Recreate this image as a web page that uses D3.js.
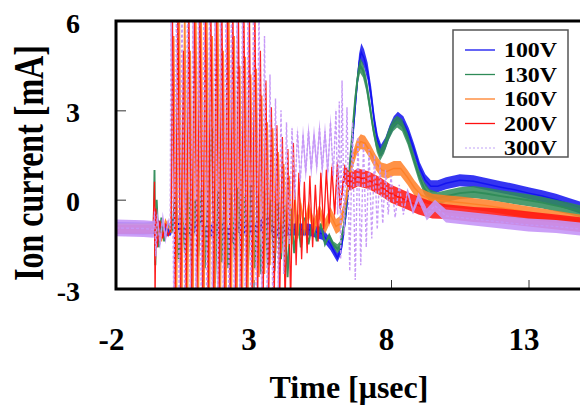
<!DOCTYPE html>
<html>
<head>
<meta charset="utf-8">
<script src="https://cdn.jsdelivr.net/npm/d3@7"></script>
<style>
  body { margin: 0; background: #fff; }
  text { font-family: "Liberation Serif", "Times New Roman", serif; font-weight: bold; fill: #000; }
</style>
</head>
<body>
<svg id="chart" width="580" height="406"></svg>
<script>
// [time (usec), current (mA), noise half-width (mA)]
const s100 = [
  [-2.0,-0.95,0.2],[-1.0,-0.97,0.2],[-0.62,-0.95,0.2],[-0.58,-1.4,0.2],[-0.52,-0.8,0.2],[-0.3,-1.05,0.2],
  [0.0,-1.0,0.2],[0.2,-0.3,0.1],[0.3,-1.1,0.2],[0.8,-1.0,0.2],[1.1,-0.6,0.15],[1.2,-1.1,0.2],[1.8,-0.95,0.2],
  [2.3,-1.3,0.2],[2.4,-0.9,0.2],[3.0,-1.0,0.2],[3.6,-0.7,0.2],[3.7,-1.1,0.2],[4.3,-1.0,0.2],[5.0,-1.0,0.2],
  [5.5,-1.15,0.2],[5.8,-1.5,0.2],[6.05,-1.95,0.15],[6.2,-1.6,0.2],[6.35,-0.6,0.2],[6.5,0.8,0.25],
  [6.62,2.2,0.25],[6.74,3.6,0.3],[6.84,4.6,0.3],[6.92,4.95,0.3],[7.02,4.75,0.3],[7.15,4.3,0.3],
  [7.28,3.5,0.3],[7.4,2.6,0.25],[7.52,1.95,0.22],[7.64,1.65,0.2],[7.8,1.9,0.2],[7.95,2.3,0.2],
  [8.1,2.6,0.2],[8.25,2.75,0.2],[8.45,2.6,0.2],[8.65,2.2,0.2],[8.85,1.65,0.2],[9.05,1.05,0.2],
  [9.25,0.65,0.2],[9.45,0.45,0.2],[9.7,0.45,0.2],[10.0,0.55,0.2],[10.5,0.65,0.2],[11.0,0.62,0.2],
  [11.5,0.52,0.2],[12.0,0.42,0.2],[12.5,0.33,0.2],[13.0,0.22,0.2],[13.5,0.12,0.2],[14.0,0.0,0.2],
  [14.5,-0.15,0.2],[15.0,-0.3,0.2]
];

const s130 = [
  [-2.0,-0.95,0.15],[-1.0,-0.95,0.15],[-0.63,-0.95,0.15],[-0.6,1.0,0],[-0.57,-2.2,0],[-0.52,0.0,0],
  [-0.45,-1.6,0],[-0.35,-0.6,0],[-0.25,-1.4,0],[-0.1,-0.8,0],[0.05,-1.1,0],
  [0.15,0.2,0],[0.27,-2.0,0],[0.39,-0.2,0],[0.51,-1.8,0],[0.63,0.3,0],[0.75,-2.2,0],[0.87,0.0,0],
  [0.99,-1.9,0],[1.11,0.4,0],[1.23,-2.3,0],[1.35,0.1,0],[1.5,2.4,0],[1.6,-2.8,0],[1.72,0.3,0],
  [1.84,-2.1,0],[1.96,0.5,0],[2.08,-2.3,0],[2.2,0.2,0],[2.32,-2.0,0],[2.44,0.4,0],[2.56,-2.4,0],
  [2.68,0.1,0],[2.8,-2.2,0],[2.92,0.5,0],[3.04,-2.3,0],[3.16,0.2,0],[3.28,-2.5,0],[3.4,0.3,0],
  [3.52,-2.2,0],[3.64,0.0,0],[3.76,-2.4,0],[3.88,-0.1,0],[4.0,-2.0,0],[4.12,-0.2,0],[4.24,-2.6,0],
  [4.36,-0.3,0],[4.48,-1.8,0],[4.6,-0.5,0],[4.72,-1.6,0],[4.85,-0.6,0],[5.0,-1.5,0],[5.15,-0.7,0],
  [5.3,-1.4,0],[5.45,-0.8,0],[5.6,-1.5,0],[5.75,-1.2,0.1],
  [5.9,-1.5,0.1],[6.05,-1.65,0.15],[6.15,-1.55,0.15],[6.3,-0.8,0.2],[6.45,0.6,0.2],[6.58,2.1,0.2],
  [6.7,3.4,0.25],[6.8,4.2,0.25],[6.88,4.5,0.25],[6.98,4.35,0.25],[7.1,3.9,0.25],[7.22,3.2,0.25],
  [7.35,2.4,0.2],[7.48,1.8,0.2],[7.6,1.5,0.2],[7.75,1.75,0.2],[7.92,2.2,0.2],[8.08,2.5,0.2],
  [8.22,2.62,0.2],[8.4,2.5,0.2],[8.6,2.05,0.2],[8.8,1.45,0.2],[9.0,0.85,0.2],[9.2,0.4,0.2],
  [9.4,0.15,0.2],[9.7,0.05,0.2],[10.0,0.12,0.2],[10.5,0.22,0.2],[11.0,0.26,0.2],[11.5,0.2,0.2],
  [12.0,0.12,0.2],[12.5,0.05,0.2],[13.0,-0.02,0.2],[13.5,-0.1,0.2],[14.0,-0.2,0.2],[14.5,-0.3,0.2],
  [15.0,-0.42,0.2]
];

const s160 = [
  [-2.0,-0.95,0.15],[-1.0,-0.95,0.15],[-0.63,-0.95,0.15],[-0.6,0.0,0],[-0.57,-2.0,0],[-0.5,-0.6,0],
  [-0.35,-1.4,0],[-0.2,-0.7,0],[0.0,-1.1,0],
  [0.1,5.5,0],[0.2,-3.5,0],[0.3,6.5,0],[0.4,-3.0,0],[0.5,6.5,0],[0.6,-3.5,0],[0.7,5.0,0],[0.8,-3.5,0],
  [0.9,6.5,0],[1.0,-3.0,0],[1.1,6.0,0],[1.2,-3.5,0],[1.3,6.5,0],[1.4,-3.0,0],[1.5,5.5,0],[1.6,-3.5,0],
  [1.7,6.5,0],[1.8,-3.0,0],[1.9,5.0,0],[2.0,-3.5,0],[2.1,6.5,0],[2.2,-3.0,0],[2.3,5.5,0],[2.4,-3.2,0],
  [2.5,4.5,0],[2.6,-3.0,0],[2.7,4.8,0],[2.8,-3.0,0],[2.9,4.2,0],[3.0,-2.8,0],[3.1,4.4,0],[3.2,-2.6,0],
  [3.3,3.5,0],[3.4,-2.5,0],[3.5,2.6,0],[3.6,-2.2,0],[3.7,2.4,0],[3.8,-1.8,0],[3.9,1.6,0],[4.0,-1.8,0],
  [4.1,1.2,0],[4.2,-1.6,0],[4.3,0.8,0],[4.4,-1.5,0],[4.5,0.3,0.1],[4.6,-1.3,0.15],[4.7,-0.1,0.2],
  [4.85,-1.0,0.25],[5.0,-0.3,0.25],[5.2,-0.9,0.25],[5.4,-0.4,0.25],[5.6,-0.9,0.25],[5.8,-0.5,0.25],
  [6.0,-0.9,0.25],[6.15,-0.8,0.25],[6.3,-0.3,0.25],[6.45,0.5,0.25],[6.6,1.3,0.25],[6.75,1.75,0.25],
  [6.9,1.95,0.25],[7.05,1.9,0.25],[7.25,1.6,0.25],[7.45,1.25,0.25],[7.65,1.0,0.25],[7.85,0.95,0.25],
  [8.1,1.05,0.25],[8.35,1.05,0.25],[8.6,0.75,0.25],[8.85,0.4,0.25],[9.1,0.15,0.22],[9.5,0.0,0.2],
  [10.0,-0.05,0.2],[10.6,-0.1,0.2],[11.5,-0.2,0.2],[12.5,-0.35,0.2],[13.5,-0.5,0.2],[14.5,-0.65,0.2],
  [15.0,-0.72,0.2]
];

const s200 = [
  [-2.0,-1.0,0.15],[-1.0,-1.0,0.15],[-0.65,-1.0,0.15],[-0.6,0.6,0],[-0.58,-3.5,0],[-0.55,-0.3,0],
  [-0.5,-1.6,0],[-0.4,-0.7,0],[-0.3,-1.3,0],[-0.2,-0.8,0],[-0.1,-1.2,0],[0.0,-1.0,0],
  [0.05,6.5,0],[0.15,-3.5,0],[0.25,6.5,0],[0.35,-3.5,0],[0.45,5.0,0],[0.55,-3.5,0],[0.65,6.5,0],
  [0.75,-3.5,0],[0.85,6.5,0],[0.95,-3.0,0],[1.05,6.5,0],[1.15,-3.5,0],[1.25,6.5,0],[1.35,-3.5,0],
  [1.45,6.5,0],[1.55,-3.5,0],[1.65,6.5,0],[1.75,-3.5,0],[1.85,6.5,0],[1.95,-3.5,0],[2.05,6.5,0],
  [2.15,-3.5,0],[2.25,6.5,0],[2.35,-3.5,0],[2.45,6.5,0],[2.55,-3.5,0],[2.65,6.5,0],[2.75,-3.5,0],
  [2.85,6.5,0],[2.95,-3.5,0],[3.05,6.5,0],[3.15,-3.5,0],[3.25,5.0,0],[3.35,-3.5,0],[3.45,4.0,0],
  [3.55,-3.5,0],[3.65,3.1,0],[3.75,-3.5,0],[3.85,2.5,0],[3.95,-3.5,0],[4.05,2.1,0],[4.15,-3.5,0],
  [4.25,1.7,0],[4.35,-3.5,0],[4.45,1.9,0],[4.55,-2.2,0],[4.65,0.9,0],[4.75,-2.0,0],[4.85,0.6,0],
  [4.95,-1.8,0],[5.05,0.8,0],[5.15,-1.6,0],[5.25,0.5,0],[5.35,-1.4,0],[5.45,0.9,0.1],[5.55,-1.0,0.1],
  [5.65,1.0,0.1],[5.75,-0.8,0.15],[5.85,1.1,0.15],[5.95,-0.5,0.2],[6.05,1.2,0.2],[6.15,-0.3,0.2],
  [6.3,0.9,0.3],[6.5,0.6,0.3],[6.8,0.75,0.3],[7.2,0.65,0.3],[7.6,0.45,0.3],[8.0,0.2,0.3],[8.5,0.0,0.3],
  [9.0,-0.2,0.3],[9.5,-0.35,0.28],[10.0,-0.4,0.25],[11.0,-0.5,0.25],[12.0,-0.55,0.25],[13.0,-0.65,0.25],
  [14.0,-0.75,0.25],[15.0,-0.85,0.25]
];

const s300 = [
  [-2.0,-0.95,0.28],[-1.0,-0.97,0.28],[-0.63,-1.0,0.28],[-0.6,-0.4,0.2],[-0.55,-1.9,0.2],[-0.5,-0.5,0.2],
  [-0.4,-1.5,0.2],[-0.3,-0.6,0.2],[-0.2,-1.3,0.2],[-0.1,-0.7,0.1],[-0.03,-1.0,0],
  [0.0,6.5,0],[0.1,-3.5,0],[0.2,6.5,0],[0.3,-3.5,0],[0.4,6.5,0],[0.5,-3.5,0],[0.6,6.5,0],[0.7,-3.5,0],
  [0.8,6.5,0],[0.9,-3.5,0],[1.0,6.5,0],[1.1,-3.5,0],[1.2,6.5,0],[1.3,-3.5,0],[1.4,6.5,0],[1.5,-3.5,0],
  [1.6,6.5,0],[1.7,-3.5,0],[1.8,6.5,0],[1.9,-3.5,0],[2.0,6.5,0],[2.1,-3.5,0],[2.2,6.5,0],[2.3,-3.5,0],
  [2.4,6.5,0],[2.5,-3.5,0],[2.6,6.5,0],[2.7,-3.5,0],[2.8,6.5,0],[2.9,-3.5,0],[3.0,6.5,0],[3.1,-3.5,0],
  [3.2,6.5,0],[3.3,-3.5,0],[3.4,5.5,0],[3.5,-3.5,0],[3.6,4.2,0],[3.7,-3.5,0],[3.8,3.4,0],[3.9,-3.0,0],
  [4.0,3.0,0],[4.1,-2.5,0],[4.2,2.6,0],[4.3,-1.5,0],[4.4,2.4,0.1],[4.5,0.0,0.1],[4.6,2.3,0.2],
  [4.7,0.6,0.2],[4.8,2.2,0.3],[4.9,0.9,0.3],[5.0,2.3,0.3],[5.1,1.0,0.3],[5.2,2.2,0.3],[5.3,1.1,0.3],
  [5.4,2.4,0.3],[5.5,1.0,0.3],[5.6,2.3,0.3],[5.7,0.9,0.3],[5.8,2.6,0.3],[5.9,0.8,0.2],[6.0,3.0,0.1],
  [6.06,-0.5,0],[6.12,3.3,0],[6.17,-2.0,0],[6.22,4.0,0],[6.3,-1.2,0],[6.4,3.1,0],[6.5,-2.4,0],
  [6.6,2.6,0],[6.7,-2.7,0],[6.8,2.1,0],[6.9,-2.2,0],[7.0,1.9,0],[7.1,-1.6,0],[7.2,1.7,0],[7.3,-1.3,0],
  [7.4,1.5,0],[7.5,-1.0,0],[7.6,1.2,0],[7.7,-0.8,0],[7.8,1.0,0],[7.9,-0.5,0],[8.0,0.8,0],
  [8.15,-0.6,0],[8.3,0.5,0],[8.45,-0.5,0],[8.6,0.3,0.1],[8.8,-0.4,0.1],[9.0,0.1,0.15],[9.3,-0.5,0.2],
  [9.6,-0.2,0.2],[10.0,-0.55,0.22],[11.0,-0.65,0.22],[12.0,-0.75,0.22],[13.0,-0.85,0.22],
  [14.0,-0.9,0.22],[15.0,-1.0,0.22]
];

const seriesNames = ["100V", "130V", "160V", "200V", "300V"];
const seriesData = [s100, s130, s160, s200, s300];
const seriesColors = ["#1212f0", "#2e8b57", "#ff7f27", "#ff1010", "#c596f7"];
const xTicks = [-2, 3, 8, 13];
const yTicks = [-3, 0, 3, 6];

const svg = d3.select("#chart");

const x = d3.scaleLinear().domain([-2, 15]).range([116, 583.5]);
const y = d3.scaleLinear().domain([-3, 6]).range([289, 21]);

svg.append("defs").append("clipPath").attr("id", "plotclip")
  .append("rect")
  .attr("x", 116).attr("y", 21)
  .attr("width", 470).attr("height", 268);

// ticks (inward), drawn under the data
const xAxis = svg.append("g")
  .attr("transform", "translate(0,289)")
  .call(d3.axisBottom(x).tickValues(xTicks).tickSizeInner(-9).tickSizeOuter(0).tickFormat(d => String(d)));
xAxis.select(".domain").remove();
xAxis.selectAll("line").attr("stroke", "#333");
xAxis.selectAll("text")
  .attr("y", 61).attr("dy", 0).attr("dx", -5)
  .style("font-size", "31px");

const yAxis = svg.append("g")
  .attr("transform", "translate(116,0)")
  .call(d3.axisLeft(y).tickValues(yTicks).tickSizeInner(-10).tickSizeOuter(0).tickFormat(d => String(d)));
yAxis.select(".domain").remove();
yAxis.selectAll("line").attr("stroke", "#333");
yAxis.selectAll("text")
  .attr("x", -36).attr("dy", 11)
  .style("font-size", "28px");

const area = d3.area()
  .x(d => x(d[0]))
  .y0(d => y(d[1] - d[2]))
  .y1(d => y(d[1] + d[2]));

const line = d3.line()
  .x(d => x(d[0]))
  .y(d => y(d[1]));

const widths = [1.5, 1.9, 1.5, 1.3, 1.4];

const plot = svg.append("g").attr("clip-path", "url(#plotclip)");

seriesData.forEach(function(data, i){
  const g = plot.append("g");
  g.append("path")
    .datum(data)
    .attr("d", area)
    .attr("fill", seriesColors[i])
    .attr("opacity", i == 4 ? 0.9 : 0.85);
  g.append("path")
    .datum(data)
    .attr("d", line)
    .attr("fill", "none")
    .attr("stroke", seriesColors[i])
    .attr("stroke-width", widths[i])
    .attr("stroke-dasharray", i == 4 ? "3,2" : null)
    .attr("opacity", 0.95);
});

// frame
svg.append("path")
  .attr("d", "M116,21V289M114.5,21H584M114.5,289H584")
  .attr("stroke", "#000")
  .attr("stroke-width", 3)
  .attr("fill", "none");

// legend
const legend = svg.append("g");
legend.append("rect")
  .attr("x", 453).attr("y", 30)
  .attr("width", 115).attr("height", 127)
  .attr("fill", "#fff")
  .attr("stroke", "#555")
  .attr("stroke-width", 1.5);

const rows = legend.selectAll("g.row")
  .data(seriesNames)
  .enter()
  .append("g")
  .attr("class", "row")
  .attr("transform", function(d, i){ return "translate(0," + (50 + i * 24.5) + ")"; });

rows.append("line")
  .attr("x1", 465).attr("x2", 495)
  .attr("stroke", function(d, i){ return i == 4 ? "#d6c2fa" : seriesColors[i]; })
  .attr("stroke-width", 1.3)
  .attr("stroke-dasharray", function(d, i){ return i == 4 ? "2,2" : null; });

rows.append("text")
  .attr("x", 504).attr("y", 7)
  .attr("textLength", 53)
  .attr("lengthAdjust", "spacingAndGlyphs")
  .style("font-size", "21px")
  .text(d => d);

// axis titles
svg.append("text")
  .attr("x", 349).attr("y", 398)
  .attr("text-anchor", "middle")
  .style("font-size", "32px")
  .text("Time [\u03bcsec]");

svg.append("text")
  .attr("transform", "translate(43,163) rotate(-90) scale(1,1.35)")
  .attr("text-anchor", "middle")
  .style("font-size", "32px")
  .text("Ion current [mA]");
</script>
</body>
</html>
